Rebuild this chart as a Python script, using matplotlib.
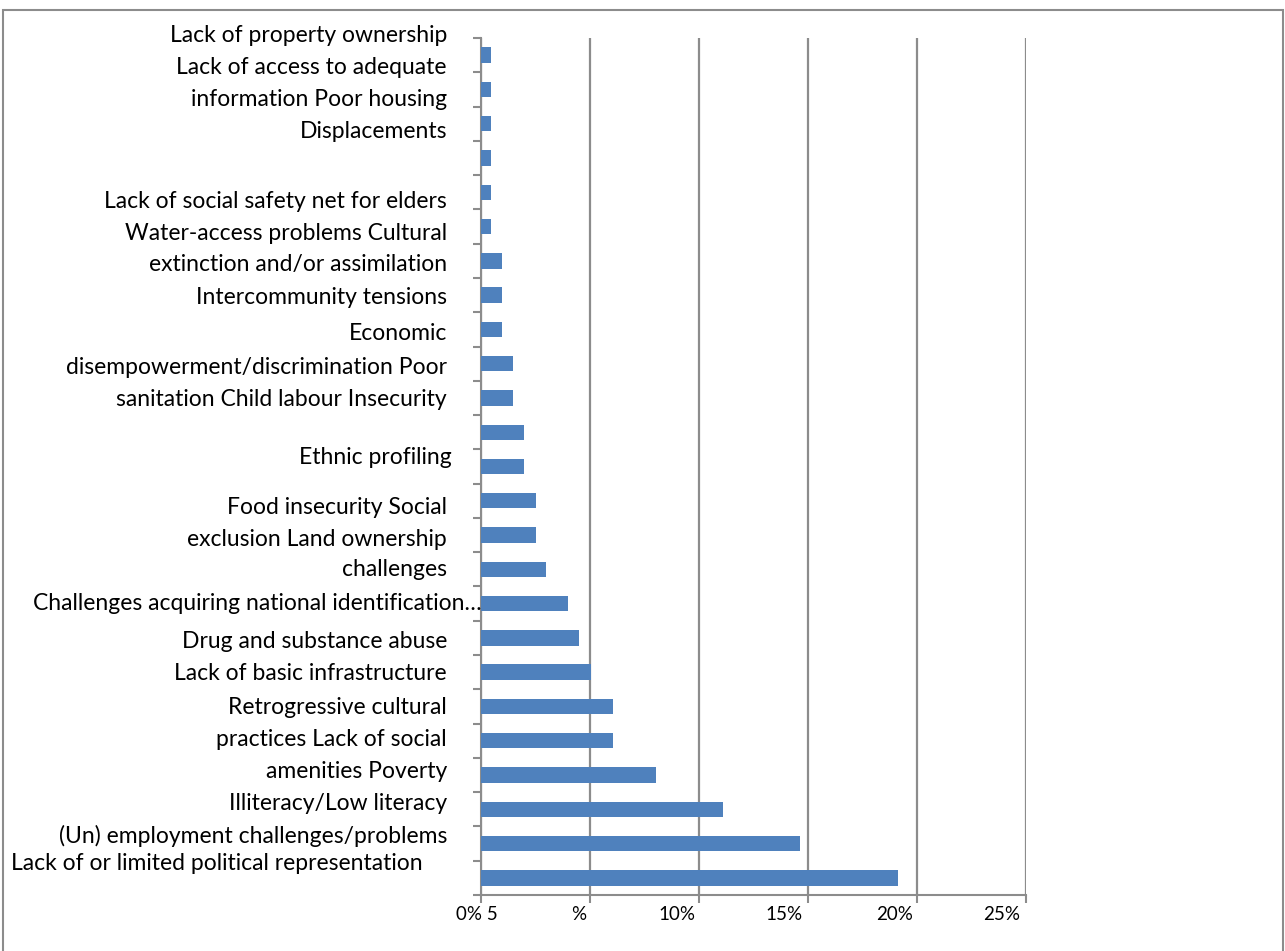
import matplotlib.pyplot as plt
from matplotlib.patches import Rectangle

# bar values in %, top to bottom
values = [0.47, 0.47, 0.47, 0.47, 0.47, 0.47, 0.98, 0.98, 0.98, 1.47, 1.47,
          1.97, 1.97, 2.5, 2.5, 3.0, 4.0, 4.5, 5.04, 6.04, 6.04, 8.04, 11.08,
          14.62, 19.15]

# free-floating category text (as it appears in the source, misaligned)
label_texts = [
    "Lack of property ownership",
    "Lack of access to adequate",
    "information Poor housing",
    "Displacements",
    "Lack of social safety net for elders",
    "Water-access problems Cultural",
    "extinction and/or assimilation",
    "Intercommunity tensions",
    "Economic",
    "disempowerment/discrimination Poor",
    "sanitation Child labour Insecurity",
    "Ethnic profiling",
    "Food insecurity Social",
    "exclusion Land ownership",
    "challenges",
    "Challenges acquiring national identification\u2026",
    "Drug and substance abuse",
    "Lack of basic infrastructure",
    "Retrogressive cultural",
    "practices Lack of social",
    "amenities Poverty",
    "Illiteracy/Low literacy",
    "(Un) employment challenges/problems",
    "Lack of or limited political representation",
]
label_right_px = [447, 447, 447, 447, 447, 447, 447, 447, 447, 447, 447, 452,
                  447, 447, 447, 482, 447, 447, 447, 447, 447, 447, 447, 423]
label_y_px = [36, 68, 99, 132, 201, 234, 265, 297, 334, 367, 400, 457,
              507, 539, 569, 604, 641, 673, 707, 740, 772, 804, 836, 863]

xtick_values = [0, 5, 10, 15, 20, 25]
xtick_labels = ["0% 5", "%", "10%", "15%", "20%", "25%"]
xtick_label_px = [477, 579, 677, 784, 895, 1002]

W, H = 1285, 951
fig = plt.figure(figsize=(W / 100, H / 100), dpi=100, facecolor='white')
plt.rcParams['font.family'] = ['Lato', 'DejaVu Sans']

# outer frame
fig.patches.append(Rectangle((3 / W, -0.1), (1283 - 3) / W, 1.1 - 10 / H,
                             transform=fig.transFigure, fill=False,
                             edgecolor='#8c8c8c', linewidth=1.5))

left, right, top, bottom = 481, 1026, 38, 895
ax = fig.add_axes([left / W, 1 - bottom / H, (right - left) / W, (bottom - top) / H])

n = len(values)
ypos = list(range(n))
ax.barh(ypos, values, height=0.45, color='#4f81bd', zorder=3)
ax.set_ylim(n - 0.5, -0.5)
ax.set_xlim(0, 25)

ax.set_xticks(xtick_values)
ax.set_xticklabels([])
ax.grid(axis='x', color='#8c8c8c', linewidth=1.6, zorder=0)
ax.tick_params(axis='x', direction='out', length=6, color='#8c8c8c', width=1.5)

ax.set_yticks([i - 0.5 for i in range(n + 1)])
ax.set_yticklabels([])
ax.tick_params(axis='y', direction='out', length=6, color='#8c8c8c', width=1.5)

for s in ['top', 'right']:
    ax.spines[s].set_visible(False)
for s in ['left', 'bottom']:
    ax.spines[s].set_color('#8c8c8c')
    ax.spines[s].set_linewidth(1.5)

for txt, xr, yc in zip(label_texts, label_right_px, label_y_px):
    fig.text(xr / W, 1 - yc / H, txt, ha='right', va='center', fontsize=16.5, color='black')

for txt, xc in zip(xtick_labels, xtick_label_px):
    fig.text(xc / W, 1 - 914 / H, txt, ha='center', va='center', fontsize=13.5, color='black')

fig.savefig('out.png', dpi=100, facecolor='white')
